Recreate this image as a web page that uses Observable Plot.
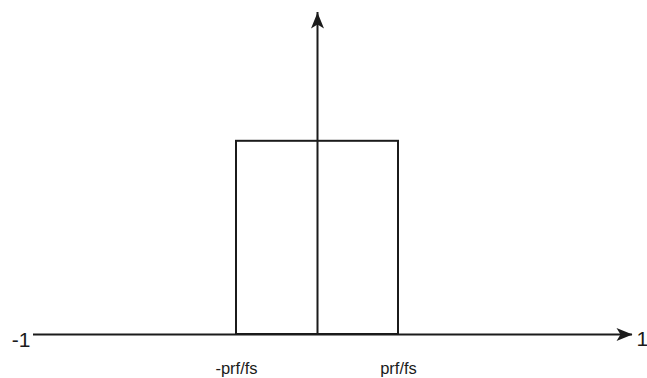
<!DOCTYPE html>
<html>
<head>
<meta charset="utf-8">
<script src="https://cdn.jsdelivr.net/npm/d3@7"></script>
<script src="https://cdn.jsdelivr.net/npm/@observablehq/plot@0.6"></script>
<style>
  html, body { margin: 0; padding: 0; background: #fff; }
  #chart svg { display: block; }
</style>
</head>
<body>
<div id="chart"></div>
<script>
// Normalised frequency axis and the ideal low-pass band
const axisEnds = [-1, 1];
const axisEndLabels = ["-1", "1"];
const bandEdges = [-0.27, 0.27];
const bandLabels = ["-prf/fs", "prf/fs"];
const bandHeight = 0.6;
const verticalAxisTop = 1;

const ink = "#1b1b1b";

// Filled, notched arrowhead pointing up, tip at the origin
const arrowHead = {
  draw(ctx) {
    ctx.moveTo(0, 0);
    ctx.lineTo(6.5, 16);
    ctx.lineTo(0, 12);
    ctx.lineTo(-6.5, 16);
    ctx.closePath();
  }
};

const band = [{x1: bandEdges[0], x2: bandEdges[1], y1: 0, y2: bandHeight}];
const heads = [
  {x: axisEnds[1], y: 0, rotate: 90},
  {x: 0, y: verticalAxisTop, rotate: 0}
];
const endLabels = axisEnds.map((x, i) => ({x, label: axisEndLabels[i]}));
const edgeLabels = bandEdges.map((x, i) => ({x, label: bandLabels[i]}));

const chart = Plot.plot({
  width: 647,
  height: 378,
  margin: 0,
  style: {fontFamily: "'Liberation Sans', Arial, sans-serif", background: "#fff"},
  x: {
    type: "linear",
    domain: [axisEnds[0], bandEdges[0], bandEdges[1], axisEnds[1]],
    range: [33, 236, 398, 632],
    axis: null
  },
  y: {domain: [0, verticalAxisTop], range: [334, 12], axis: null},
  marks: [
    Plot.rect(band, {x1: "x1", x2: "x2", y1: "y1", y2: "y2", fill: "none", stroke: ink, strokeWidth: 2}),
    Plot.ruleY([0], {x1: axisEnds[0], x2: axisEnds[1], stroke: ink, strokeWidth: 2}),
    Plot.ruleX([0], {y1: 0, y2: verticalAxisTop, stroke: ink, strokeWidth: 2}),
    Plot.dot(heads, {x: "x", y: "y", rotate: "rotate", symbol: arrowHead, fill: ink, stroke: "none"}),
    Plot.text(endLabels.slice(0, 1), {x: "x", y: 0, text: "label", textAnchor: "end", dx: -3, dy: 6, fontSize: 21, fill: ink}),
    Plot.text(endLabels.slice(1), {x: "x", y: 0, text: "label", textAnchor: "start", dx: 4, dy: 5, fontSize: 21, fill: ink}),
    Plot.text(edgeLabels, {x: "x", y: 0, text: "label", textAnchor: "middle", dy: 34, fontSize: 16.5, fill: ink})
  ]
});

document.getElementById("chart").appendChild(chart);
</script>
</body>
</html>
